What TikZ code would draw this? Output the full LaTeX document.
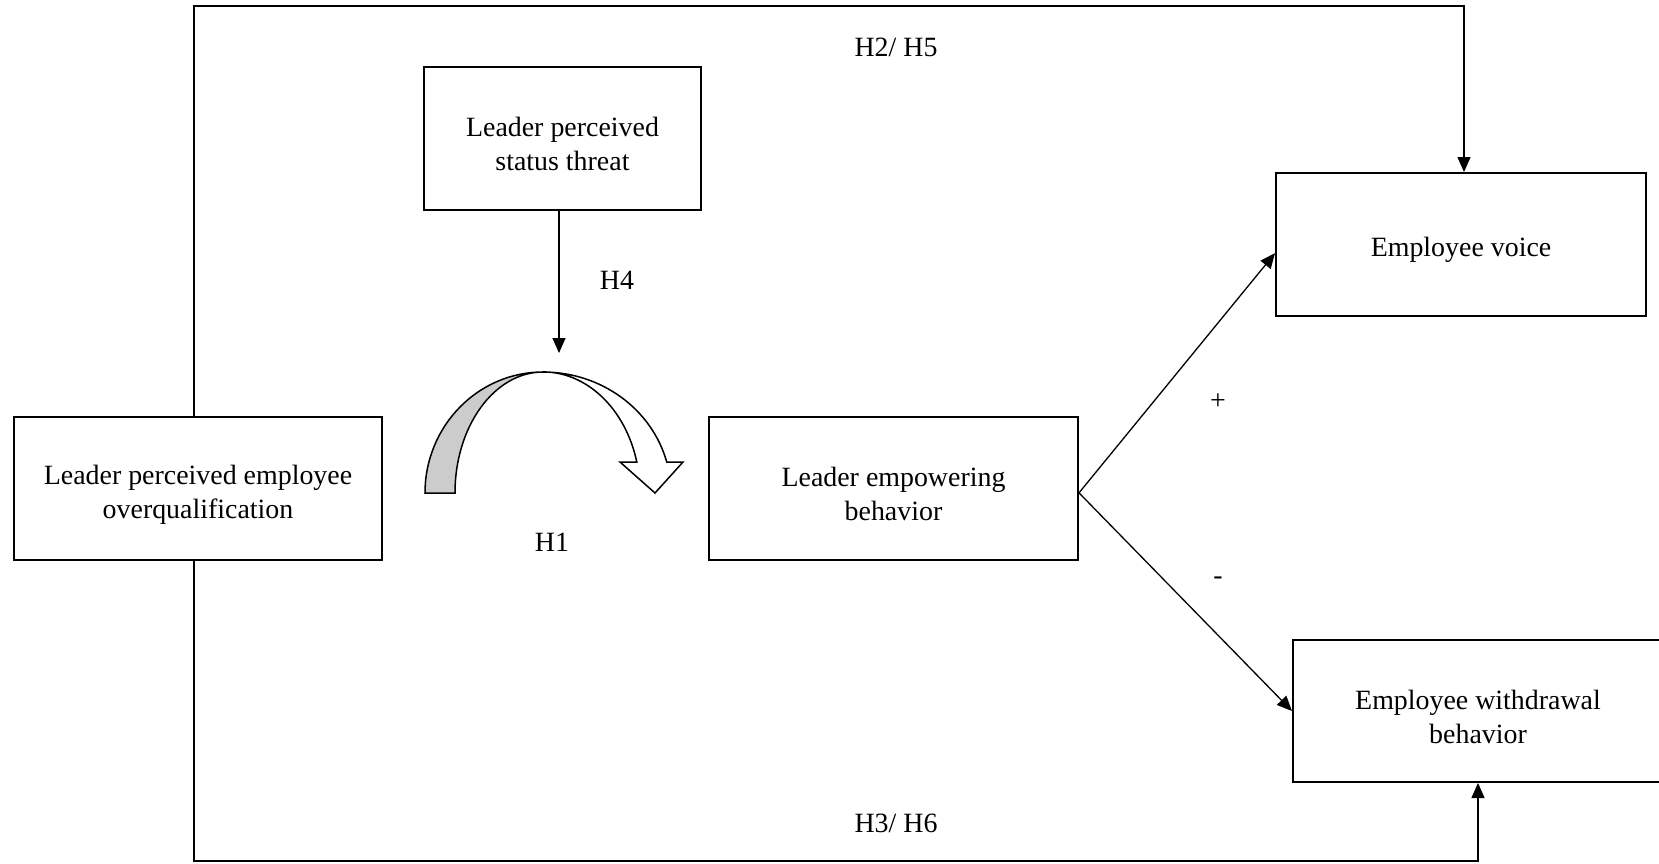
\documentclass[tikz,border=0pt]{standalone}
\usepackage{fontspec}
\setmainfont{Liberation Serif}
\usetikzlibrary{arrows.meta,calc}
\newcommand{\lift}{\rule{0pt}{31pt}}
\begin{document}
\begin{tikzpicture}[x=1pt,y=-1pt,
  box/.style={draw,line width=2pt,inner sep=0pt,align=center,font=\fontsize{27.9}{34}\selectfont},
  lbl/.style={inner sep=0pt,font=\fontsize{27.9}{34}\selectfont},
  conn/.style={line width=1.3pt,-{Triangle[length=15pt,width=13pt]}},
  curve/.style={line width=1.5pt}]
\useasboundingbox (0,0) rectangle (1659,863);
% boxes
\node[box,minimum width=368pt,minimum height=143pt] (oq) at (198,488.5) {\lift Leader perceived employee\\overqualification};
\node[box,minimum width=277pt,minimum height=143pt] (threat) at (562.5,138.5) {\lift Leader perceived\\status threat};
\node[box,minimum width=369pt,minimum height=143pt] (emp) at (893.5,488.5) {\lift Leader empowering\\behavior};
\node[box,minimum width=370pt,minimum height=143pt] (voice) at (1461,244.5) {\lift Employee voice};
\node[box,minimum width=370pt,minimum height=142pt] (wd) at (1478,711) {\lift Employee withdrawal\\behavior};
% helper coordinates
\coordinate (tl) at (194,6);
\coordinate (tr) at (1464,6);
\coordinate (bl) at (194,861);
\coordinate (ctop) at (559,353);
% outer connectors
\draw[conn] (oq.north -| tl) -- (tl) -- (tr) -- (tr |- voice.north);
\draw[conn] (oq.south -| bl) -- (bl) -| (wd.south);
% moderator arrow
\draw[conn] (threat.south -| ctop) -- (ctop);
% outcome arrows
\draw[conn] ($(emp.north east)!0.53!(emp.south east)$) -- ($(voice.north west)!0.56!(voice.south west)$);
\draw[conn] ($(emp.north east)!0.53!(emp.south east)$) -- (wd.west);
% curved arrow
\filldraw[curve,fill=white] (543,372) arc[start angle=270,end angle=345.2,x radius=128,y radius=121]
  -- (683,462) -- (655,493) -- (620,462) -- (636.8,462)
  arc[start angle=345.2,end angle=270,x radius=97,y radius=121] -- cycle;
\filldraw[curve,fill=gray!40] (425,493) arc[start angle=180,end angle=270,x radius=118,y radius=121]
  arc[start angle=270,end angle=180,x radius=88,y radius=121] -- cycle;
% labels
\node[lbl] (h25) at (896,47) {H2/ H5};
\node[lbl] (h36) at (896,823) {H3/ H6};
\node[lbl] (h4) at (617,280) {H4};
\node[lbl] (h1) at (552,542) {H1};
\node[lbl] (plus) at (1218,402) {+};
\node[lbl] (minus) at (1218,581) {-};
\end{tikzpicture}
\end{document}
